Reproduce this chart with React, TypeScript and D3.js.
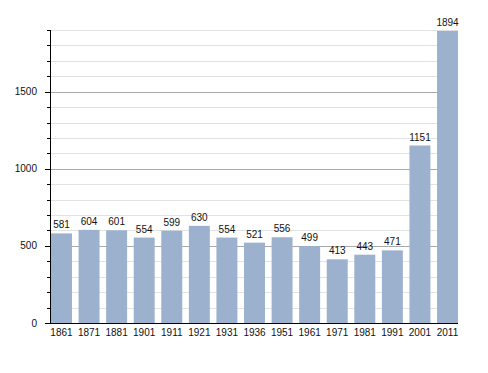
// @ts-nocheck
import { useRef, useEffect } from "react";
import * as d3 from "d3";

const years = ["1861", "1871", "1881", "1901", "1911", "1921", "1931", "1936", "1951", "1961", "1971", "1981", "1991", "2001", "2011"];
const population = [581, 604, 601, 554, 599, 630, 554, 521, 556, 499, 413, 443, 471, 1151, 1894];
const majorTicks = [0, 500, 1000, 1500];

const App = () => {
  const svgRef = useRef();

  useEffect(() => {
    const width = 488;
    const height = 373;
    const svg = d3.select(svgRef.current);
    svg.selectAll("*").remove();

    const margin = { top: 30, right: 30, bottom: 50, left: 50 };
    const x = d3
      .scaleBand()
      .domain(years)
      .range([margin.left + 1, width - margin.right])
      .paddingInner(0.24)
      .paddingOuter(0);
    const y = d3.scaleLinear().domain([0, 1900]).range([height - margin.bottom, margin.top]);

    svg.attr("width", width).attr("height", height).style("font-family", "Liberation Sans, Arial, sans-serif");

    // grille
    const minor = d3.range(100, 1901, 100).filter((d) => d % 500 !== 0);
    svg
      .append("g")
      .selectAll("line")
      .data(minor)
      .enter()
      .append("line")
      .attr("x1", margin.left)
      .attr("x2", width - margin.right)
      .attr("y1", (d) => Math.round(y(d)) + 0.5)
      .attr("y2", (d) => Math.round(y(d)) + 0.5)
      .attr("stroke", "#e2e2e2");
    svg
      .append("g")
      .selectAll("line")
      .data(majorTicks.filter((d) => d > 0))
      .enter()
      .append("line")
      .attr("x1", margin.left)
      .attr("x2", width - margin.right)
      .attr("y1", (d) => Math.round(y(d)) + 0.5)
      .attr("y2", (d) => Math.round(y(d)) + 0.5)
      .attr("stroke", "#a9a9a9");

    // barres
    svg
      .append("g")
      .selectAll("rect")
      .data(population)
      .enter()
      .append("rect")
      .attr("x", (d, i) => x(years[i]))
      .attr("y", (d) => y(d))
      .attr("width", x.bandwidth())
      .attr("height", (d) => y(0) - y(d))
      .attr("fill", "#9bb1cd");

    svg
      .append("g")
      .selectAll("text")
      .data(population)
      .enter()
      .append("text")
      .attr("x", (d, i) => x(years[i]) + x.bandwidth() / 2)
      .attr("y", (d) => y(d) - 5)
      .attr("text-anchor", "middle")
      .attr("font-size", 10)
      .attr("fill", "#111")
      .text((d) => d);

    // axe Y
    const yAxis = svg.append("g");
    yAxis
      .append("line")
      .attr("x1", margin.left + 0.5)
      .attr("x2", margin.left + 0.5)
      .attr("y1", y(1900))
      .attr("y2", y(0))
      .attr("stroke", "#000");
    yAxis
      .selectAll(".minor")
      .data(minor)
      .enter()
      .append("line")
      .attr("x1", margin.left - 3)
      .attr("x2", margin.left)
      .attr("y1", (d) => Math.round(y(d)) + 0.5)
      .attr("y2", (d) => Math.round(y(d)) + 0.5)
      .attr("stroke", "#000");
    yAxis
      .selectAll(".major")
      .data(majorTicks)
      .enter()
      .append("line")
      .attr("x1", margin.left - 5)
      .attr("x2", margin.left)
      .attr("y1", (d) => Math.round(y(d)) + 0.5)
      .attr("y2", (d) => Math.round(y(d)) + 0.5)
      .attr("stroke", "#000");
    yAxis
      .selectAll("text")
      .data(majorTicks)
      .enter()
      .append("text")
      .attr("x", 37)
      .attr("y", (d) => y(d))
      .attr("dy", "0.35em")
      .attr("text-anchor", "end")
      .attr("font-size", 10)
      .attr("fill", "#111")
      .text((d) => d);

    // axe X
    const xAxis = svg.append("g");
    xAxis
      .append("line")
      .attr("x1", margin.left - 5)
      .attr("x2", width - margin.right)
      .attr("y1", y(0) + 0.5)
      .attr("y2", y(0) + 0.5)
      .attr("stroke", "#000");
    xAxis
      .selectAll("text")
      .data(years)
      .enter()
      .append("text")
      .attr("x", (d) => x(d) + x.bandwidth() / 2)
      .attr("y", y(0) + 13)
      .attr("text-anchor", "middle")
      .attr("font-size", 10)
      .attr("fill", "#111")
      .text((d) => d);
  }, []);

  return (
    <div style={{ margin: -8 }}>
      <svg ref={svgRef}></svg>
    </div>
  );
};

export default App;
